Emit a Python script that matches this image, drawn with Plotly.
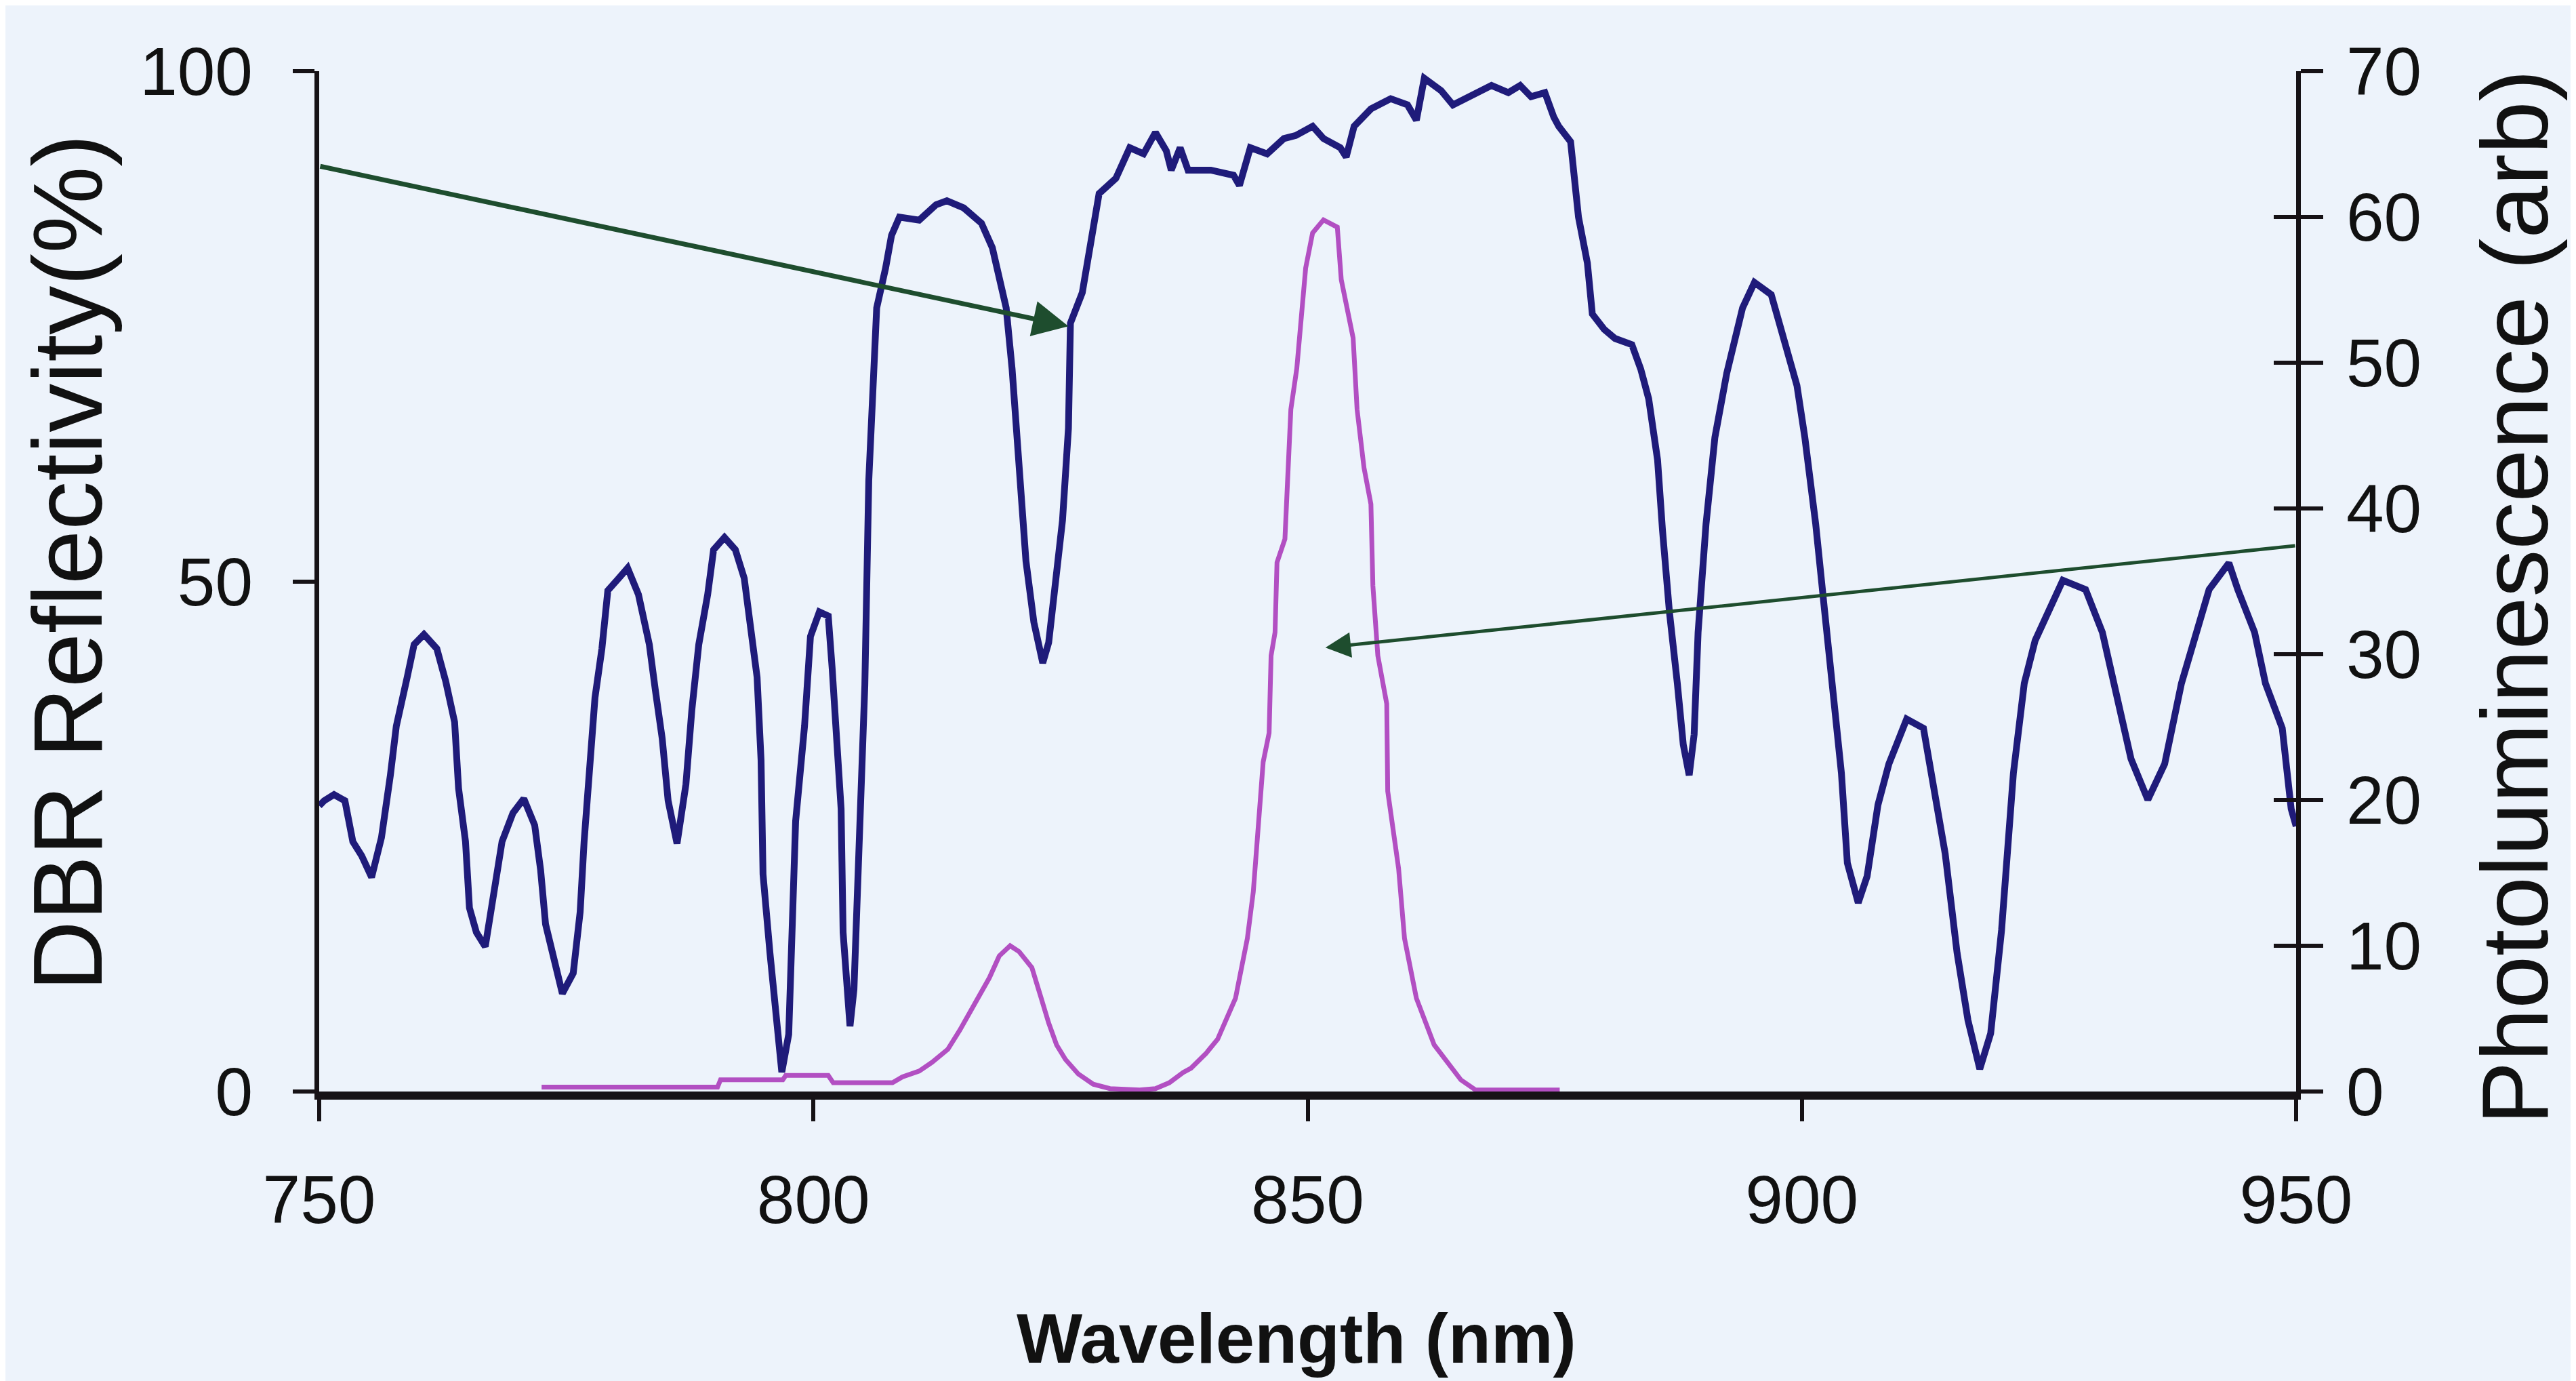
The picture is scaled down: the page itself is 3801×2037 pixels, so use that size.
import plotly.graph_objects as go

# ---------------- data ----------------
dbr_wavelength = [
    750.0, 750.5, 751.5, 752.6, 753.4, 754.3, 755.3, 756.3, 757.2, 757.8, 758.9, 759.6,
    760.6, 761.9, 762.8, 763.7, 764.1, 764.8, 765.2, 765.9, 766.8, 767.6, 768.5, 769.6,
    770.7, 771.8, 772.4, 772.9, 773.7, 774.6, 775.7, 776.4, 776.8, 777.2, 777.9, 778.6,
    779.2, 780.3, 781.2, 782.3, 783.4, 784.0, 784.7, 785.3, 786.2, 787.1, 787.7, 788.4,
    789.3, 789.9, 791.0, 792.1, 793.0, 793.6, 794.3, 794.7, 794.9, 795.6, 796.0, 796.8,
    797.5, 797.8, 798.2, 799.1, 799.7, 800.6, 801.5, 801.9, 802.4, 802.8, 803.0, 803.7,
    804.1, 804.4, 804.8, 805.2, 805.6, 806.4, 807.3, 807.9, 808.7, 810.7, 812.4, 813.5,
    815.2, 817.0, 818.1, 818.9, 819.5, 820.1, 820.9, 821.5, 822.3, 823.2, 823.8, 824.5,
    825.2, 825.8, 826.0, 827.2, 828.0, 828.9, 830.6, 832.0, 833.4, 834.6, 835.7, 836.2,
    837.1, 837.9, 840.2, 842.5, 843.1, 844.2, 845.9, 847.6, 848.8, 850.5, 851.6, 853.3,
    853.9, 854.7, 856.4, 858.4, 860.1, 861.0, 861.8, 863.5, 864.7, 866.4, 868.6, 870.3,
    871.5, 872.6, 874.0, 874.9, 875.4, 876.6, 877.4, 878.3, 878.8, 880.0, 881.1, 882.8,
    883.7, 884.5, 885.4, 885.9, 886.6, 887.4, 888.0, 888.6, 889.1, 889.5, 890.0, 890.3,
    891.2, 892.4, 894.0, 895.2, 896.9, 898.0, 899.5, 900.3, 901.4, 902.3, 903.1, 904.0,
    904.6, 905.7, 906.6, 907.7, 908.8, 910.6, 912.3, 913.4, 914.5, 915.7, 916.8, 918.0,
    919.1, 920.2, 921.4, 922.5, 923.6, 926.4, 928.7, 930.4, 931.6, 933.3, 935.0, 936.7,
    938.4, 941.2, 943.2, 944.1, 945.8, 946.9, 948.6, 949.5, 950.0,
]
dbr_reflectivity = [
    28.0, 28.5, 29.1, 28.5, 24.5, 23.1, 21.0, 24.9, 31.0, 35.8, 40.6, 43.8,
    44.8, 43.4, 40.2, 36.2, 29.7, 24.5, 18.0, 15.6, 14.2, 18.9, 24.5, 27.3,
    28.7, 26.1, 21.7, 16.4, 13.2, 9.6, 11.6, 17.6, 24.5, 30.5, 38.6, 43.4,
    49.1, 50.3, 51.3, 48.7, 43.8, 39.4, 34.6, 28.5, 24.3, 30.1, 37.4, 43.8,
    48.7, 53.1, 54.3, 53.1, 50.3, 45.8, 40.6, 32.5, 21.3, 13.6, 9.6, 1.9,
    5.6, 15.6, 26.5, 35.8, 44.6, 47.0, 46.6, 41.4, 33.8, 27.7, 15.6, 6.4,
    10.0, 18.0, 25.7, 39.8, 59.9, 76.8, 80.7, 83.9, 85.7, 85.4, 86.9, 87.3,
    86.6, 85.1, 82.7, 79.7, 76.8, 70.8, 59.9, 52.0, 46.0, 42.0, 44.0, 50.0,
    56.0, 65.0, 75.3, 78.3, 82.7, 88.0, 89.5, 92.5, 91.9, 94.0, 92.2, 90.3,
    92.5, 90.3, 90.3, 89.8, 88.8, 92.5, 91.9, 93.4, 93.7, 94.6, 93.4, 92.5,
    91.6, 94.6, 96.3, 97.3, 96.7, 95.2, 99.3, 98.1, 96.7, 97.5, 98.6, 97.9,
    98.6, 97.5, 97.9, 95.5, 94.6, 93.1, 85.7, 81.2, 76.2, 74.7, 73.8, 73.2,
    70.8, 67.9, 61.9, 55.0, 47.0, 40.0, 34.0, 31.0, 35.0, 45.0, 52.0, 55.6,
    64.1, 70.4, 76.8, 79.3, 78.1, 74.2, 69.2, 64.1, 55.6, 47.1, 40.0, 31.2,
    22.4, 18.5, 21.1, 28.1, 32.1, 36.5, 35.6, 29.9, 23.3, 13.6, 7.0, 2.2,
    5.7, 15.8, 31.2, 40.0, 44.2, 50.1, 49.2, 45.0, 40.0, 32.6, 28.6, 32.1,
    40.0, 49.2, 51.8, 49.2, 45.0, 40.0, 35.6, 27.7, 26.0,
]

pl_wavelength = [
    772.5, 790.3, 790.6, 796.9, 797.2, 801.5, 802.0, 808.0, 809.0, 810.7, 812.0, 813.6,
    814.8, 815.8, 817.0, 817.8, 818.8, 819.9, 820.8, 822.1, 823.0, 823.8, 824.6, 825.5,
    826.8, 828.3, 830.0, 831.7, 833.0, 834.6, 836.0, 837.4, 838.2, 839.7, 840.9, 842.7,
    843.9, 844.5, 845.0, 845.5, 846.1, 846.3, 846.7, 846.9, 847.7, 848.0, 848.3, 848.9,
    849.3, 849.8, 850.5, 851.6, 853.0, 853.4, 854.6, 855.0, 855.7, 856.4, 856.6, 857.1,
    858.0, 858.1, 859.2, 859.8, 861.0, 862.8, 865.5, 867.0, 875.5,
]
pl_intensity = [
    0.3, 0.3, 0.8, 0.8, 1.1, 1.1, 0.6, 0.6, 1.0, 1.4, 2.0, 2.9,
    4.2, 5.4, 6.8, 7.8, 9.3, 10.0, 9.6, 8.5, 6.5, 4.7, 3.2, 2.2,
    1.2, 0.5, 0.2, 0.1, 0.1, 0.2, 0.6, 1.3, 1.6, 2.6, 3.6, 6.4,
    10.5, 13.7, 18.5, 22.6, 24.6, 29.9, 31.5, 36.3, 37.9, 42.8, 46.8, 49.6,
    52.9, 56.5, 58.9, 59.8, 59.3, 55.7, 51.7, 46.8, 42.8, 40.3, 34.7, 29.9,
    26.6, 20.6, 15.3, 10.5, 6.4, 3.2, 0.8, 0.1, 0.1,
]

x_ticks = [750, 800, 850, 900, 950]
left_ticks = [0, 50, 100]
right_ticks = [0, 10, 20, 30, 40, 50, 60, 70]

# arrows: (start wavelength, start reflectivity) -> (tip wavelength, tip reflectivity)
arrow_dbr = dict(x0=750.0, y0=90.7, x1=825.8, y1=75.0, width=7)
arrow_pl = dict(x0=950.0, y0=53.5, x1=851.8, y1=43.5, width=5)

x_title = "Wavelength (nm)"
left_title = "DBR Reflectivity(%)"
right_title = "Photoluminescence (arb)"

# ---------------- styling ----------------
BG = "#EDF3FB"
AXIS = "#161216"
DBR_COLOR = "#1F1B7A"
PL_COLOR = "#B24FC2"
ARROW_COLOR = "#1E4D2E"
TEXT = "#111111"
FONT = "Liberation Sans, Arial, sans-serif"

W, H = 3801, 2037
ML, MR, MT, MB = 463, 421, 97, 435
PW, PH = W - ML - MR, H - MT - MB


def px_to_paper_x(px):
    return (px - ML) / PW


def px_to_paper_y(py):
    return (H - MB - py) / PH


fig = go.Figure()
fig.add_trace(go.Scatter(
    x=dbr_wavelength, y=dbr_reflectivity, mode="lines",
    line=dict(color=DBR_COLOR, width=10), yaxis="y", showlegend=False,
    cliponaxis=False,
))
fig.add_trace(go.Scatter(
    x=pl_wavelength, y=pl_intensity, mode="lines",
    line=dict(color=PL_COLOR, width=7), yaxis="y2", showlegend=False,
))
# invisible trace to activate yaxis3 (gives cross ticks on the right axis)
fig.add_trace(go.Scatter(x=[750], y=[0], yaxis="y3", mode="markers",
                         marker=dict(opacity=0), showlegend=False, hoverinfo="skip"))

tickfont = dict(family=FONT, size=100, color=TEXT)

fig.update_layout(
    width=W, height=H,
    margin=dict(l=ML, r=MR, t=MT, b=MB),
    paper_bgcolor=BG, plot_bgcolor=BG,
    xaxis=dict(
        range=[750, 950], tickvals=x_ticks, ticks="outside", ticklen=32, tickwidth=6,
        tickcolor=AXIS, showline=True, linecolor=AXIS, linewidth=12,
        showgrid=False, zeroline=False, tickfont=tickfont,
        ticklabelstandoff=30,
    ),
    yaxis=dict(
        range=[0, 100], tickvals=left_ticks, ticks="outside", ticklen=32, tickwidth=6,
        tickcolor=AXIS, showline=True, linecolor=AXIS, linewidth=7,
        showgrid=False, zeroline=False, tickfont=tickfont, ticklabelstandoff=39,
    ),
    yaxis2=dict(
        range=[0, 70], tickvals=right_ticks, overlaying="y", side="right", anchor="x",
        ticks="outside", ticklen=33, tickwidth=6, tickcolor=AXIS,
        showline=True, linecolor=AXIS, linewidth=7, showgrid=False, zeroline=False,
        tickfont=tickfont, ticklabelstandoff=14,
    ),
    yaxis3=dict(
        range=[0, 70], tickvals=right_ticks, overlaying="y", side="right", anchor="x",
        ticks="inside", ticklen=33, tickwidth=6, tickcolor=AXIS,
        showline=False, showgrid=False, zeroline=False, showticklabels=False,
    ),
)

annotations = []
for a in (arrow_dbr, arrow_pl):
    annotations.append(dict(
        x=a["x1"], y=a["y1"], xref="x", yref="y",
        ax=a["x0"], ay=a["y0"], axref="x", ayref="y",
        text="", showarrow=True, arrowhead=2, arrowsize=1.5,
        arrowwidth=a["width"], arrowcolor=ARROW_COLOR,
    ))

annotations.append(dict(
    text=f"<b>{x_title}</b>", xref="paper", yref="paper",
    x=px_to_paper_x(1905), y=px_to_paper_y(1966), showarrow=False,
    font=dict(family=FONT, size=103, color=TEXT), xanchor="center", yanchor="middle",
))
annotations.append(dict(
    text=left_title, xref="paper", yref="paper", textangle=-90,
    x=px_to_paper_x(92), y=px_to_paper_y(822), showarrow=False,
    font=dict(family=FONT, size=144, color=TEXT), xanchor="center", yanchor="middle",
))
annotations.append(dict(
    text=right_title, xref="paper", yref="paper", textangle=-90,
    x=px_to_paper_x(3702), y=px_to_paper_y(873), showarrow=False,
    font=dict(family=FONT, size=140, color=TEXT), xanchor="center", yanchor="middle",
))
fig.update_layout(annotations=annotations)

fig.write_html("out.html")
